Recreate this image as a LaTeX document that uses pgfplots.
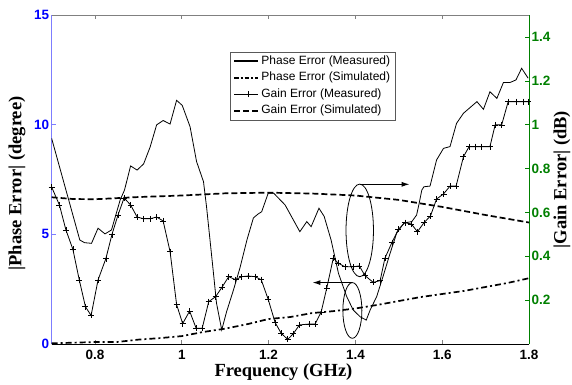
\documentclass[border=0pt]{standalone}
\usepackage{fontspec}
\setmainfont{Liberation Serif}
\newfontfamily\arial{Liberation Sans}
\usepackage{pgfplots}
\pgfplotsset{compat=1.18}
\usepackage{pgfplotstable}
\usetikzlibrary{arrows.meta}
\definecolor{lblue}{RGB}{125,125,255}
\definecolor{mblue}{RGB}{0,0,255}
\definecolor{mgreen}{RGB}{0,128,0}
\pgfplotsset{/pgf/number format/assume math mode=true}

\pgfplotstableread{
f deg
0.700 9.38
0.765 4.74
0.776 4.62
0.792 4.59
0.807 5.28
0.823 5.02
0.838 5.20
0.858 6.57
0.868 7.02
0.882 8.12
0.897 7.93
0.912 8.21
0.927 8.98
0.942 9.99
0.957 10.19
0.973 10.03
0.988 11.11
1.001 10.88
1.019 9.91
1.034 8.32
1.050 7.40
1.057 6.26
1.065 4.74
1.073 3.22
1.080 1.86
1.092 0.64
1.103 1.46
1.119 2.46
1.134 3.47
1.150 4.74
1.165 5.75
1.176 5.93
1.184 6.03
1.199 6.87
1.212 6.87
1.238 6.34
1.272 5.12
1.288 5.58
1.298 5.35
1.316 6.19
1.328 5.82
1.344 4.74
1.361 3.22
1.380 2.16
1.395 1.55
1.411 1.24
1.425 1.09
1.434 1.55
1.449 2.16
1.464 3.10
1.480 4.14
1.495 5.05
1.512 5.52
1.530 5.58
1.541 5.88
1.547 6.42
1.553 7.02
1.558 7.17
1.572 7.20
1.587 8.39
1.603 8.92
1.618 9.00
1.633 10.06
1.649 10.52
1.680 11.05
1.695 10.70
1.710 11.50
1.726 11.20
1.741 11.92
1.756 11.92
1.770 12.04
1.783 12.57
1.798 12.12
}\phasemeas

\pgfplotstableread{
f deg
0.70 0.03
0.80 0.09
0.85 0.09
0.90 0.20
0.95 0.27
1.00 0.36
1.05 0.55
1.10 0.70
1.15 0.90
1.20 1.14
1.25 1.23
1.30 1.41
1.35 1.50
1.40 1.62
1.45 1.78
1.50 1.96
1.55 2.14
1.60 2.28
1.65 2.42
1.70 2.60
1.75 2.78
1.80 3.00
}\phasesim

\pgfplotstableread{
f db
0.700 0.716
0.718 0.634
0.733 0.520
0.749 0.432
0.764 0.290
0.778 0.170
0.791 0.130
0.807 0.292
0.825 0.389
0.839 0.499
0.853 0.588
0.867 0.666
0.882 0.634
0.897 0.579
0.912 0.571
0.927 0.571
0.942 0.579
0.957 0.561
0.973 0.421
0.988 0.180
1.002 0.093
1.018 0.150
1.033 0.072
1.047 0.072
1.062 0.193
1.078 0.216
1.093 0.260
1.108 0.307
1.124 0.293
1.138 0.307
1.153 0.310
1.169 0.307
1.183 0.293
1.199 0.204
1.215 0.098
1.229 0.049
1.244 0.021
1.257 0.047
1.271 0.087
1.293 0.091
1.307 0.091
1.321 0.145
1.334 0.255
1.349 0.391
1.361 0.368
1.376 0.352
1.395 0.352
1.409 0.356
1.422 0.312
1.441 0.281
1.457 0.289
1.468 0.391
1.484 0.462
1.499 0.523
1.514 0.553
1.529 0.547
1.543 0.512
1.558 0.553
1.573 0.584
1.587 0.661
1.603 0.684
1.618 0.720
1.632 0.720
1.649 0.854
1.662 0.900
1.676 0.900
1.691 0.900
1.710 0.900
1.722 0.999
1.737 0.999
1.752 1.105
1.771 1.105
1.787 1.105
1.798 1.105
}\gainmeas

\pgfplotstableread{
f db
0.70 0.669
0.75 0.661
0.80 0.660
0.90 0.670
1.00 0.677
1.10 0.687
1.20 0.690
1.30 0.686
1.40 0.677
1.50 0.657
1.60 0.625
1.70 0.588
1.80 0.554
}\gainsim

\begin{document}
\begin{tikzpicture}
\path[use as bounding box] (-51.6pt,-40pt) rectangle (520.4pt,344pt);
\begin{axis}[
  at={(0pt,0pt)}, anchor=south west,
  scale only axis, width=477.4pt, height=329pt,
  xmin=0.7, xmax=1.8, ymin=0, ymax=15,
  axis x line*=bottom, axis y line*=left,
  x axis line style={black, line width=0.9pt},
  y axis line style={lblue, line width=0.8pt},
  xtick={0.8,1,1.2,1.4,1.6,1.8}, ytick={0,5,10,15},
  tick align=inside, major tick length=4pt,
  xtick style={gray, line width=0.8pt},
  ytick style={lblue, line width=0.6pt},
  xticklabel style={font=\arial\bfseries\fontsize{13.5}{14}\selectfont, text=black, yshift=-3pt},
  yticklabel style={font=\arial\bfseries\fontsize{13.5}{14}\selectfont, text=mblue, xshift=1pt},
  xlabel={Frequency (GHz)},
  ylabel={|Phase Error| (degree)},
  xlabel style={font=\bfseries\fontsize{18.5}{20}\selectfont, at={(axis description cs:0.4857,-0.085)}, anchor=center},
  ylabel style={font=\bfseries\fontsize{18.5}{20}\selectfont, at={(axis description cs:-0.0725,0.488)}, anchor=center},
]
\addplot[black, line width=0.8pt] table[x=f, y=deg] {\phasemeas};
\addplot[black, line width=1.7pt, dash pattern=on 6pt off 3pt on 2pt off 3pt] table[x=f, y=deg] {\phasesim};
\draw[black, line width=0.8pt] (axis cs:1.41,5.18) ellipse [x radius=0.0316, y radius=2.11];
\draw[black, line width=0.8pt] (axis cs:1.393,1.53) ellipse [x radius=0.0219, y radius=1.27];
\draw[black, line width=1.1pt, -{Latex[length=8pt,width=5pt]}] (axis cs:1.41,7.28) -- (axis cs:1.525,7.28);
\draw[black, line width=1.1pt, -{Latex[length=8pt,width=5pt]}] (axis cs:1.393,2.80) -- (axis cs:1.301,2.80);
\end{axis}
\begin{axis}[
  at={(0pt,0pt)}, anchor=south west,
  scale only axis, width=477.4pt, height=329pt,
  xmin=0.7, xmax=1.8, ymin=0, ymax=1.5,
  axis x line*=top, axis y line*=right,
  x axis line style={gray, line width=0.8pt},
  y axis line style={mgreen, line width=0.8pt},
  xtick={0.8,1,1.2,1.4,1.6,1.8}, xticklabels={},
  ytick={0.2,0.4,0.6,0.8,1,1.2,1.4},
  tick align=inside, major tick length=4pt,
  xtick style={gray, line width=0.8pt},
  ytick style={mgreen, line width=0.6pt},
  yticklabel style={font=\arial\bfseries\fontsize{13.5}{14}\selectfont, text=mgreen, xshift=-1pt},
  ylabel={|Gain Error| (dB)},
  ylabel style={font=\bfseries\fontsize{18.5}{20}\selectfont, at={(axis description cs:1.069,0.5)}, anchor=center},
  legend style={at={(0.3737,0.8875)}, anchor=north west, draw=black!65,
    font=\arial\fontsize{12}{13}\selectfont, inner xsep=3pt, inner ysep=1pt,
    nodes={inner sep=2.2pt, text height=9pt, text depth=3pt}},
  legend cell align=left,
]
\addlegendimage{legend image code/.code={\draw[black, line width=2pt] (0pt,0pt) -- (24pt,0pt);}}
\addlegendentry{Phase Error (Measured)}
\addlegendimage{legend image code/.code={\draw[black, line width=2pt, dash pattern=on 4.5pt off 2pt on 2pt off 2pt] (0pt,0pt) -- (24pt,0pt);}}
\addlegendentry{Phase Error (Simulated)}
\addplot[black, line width=0.8pt, mark=+, mark size=3pt, mark options={line width=0.7pt},
  legend image code/.code={\draw[black, line width=0.8pt] (0pt,0pt) -- (24pt,0pt); \draw[black, line width=0.7pt] (14pt,-3pt) -- (14pt,3pt);}] table[x=f, y=db] {\gainmeas};
\addlegendentry{Gain Error (Measured)}
\addplot[black, line width=1.7pt, dash pattern=on 6pt off 3pt,
  legend image code/.code={\draw[black, line width=2pt, dash pattern=on 6pt off 3pt] (0pt,0pt) -- (24pt,0pt);}] table[x=f, y=db] {\gainsim};
\addlegendentry{Gain Error (Simulated)}
\end{axis}
\end{tikzpicture}
\end{document}
